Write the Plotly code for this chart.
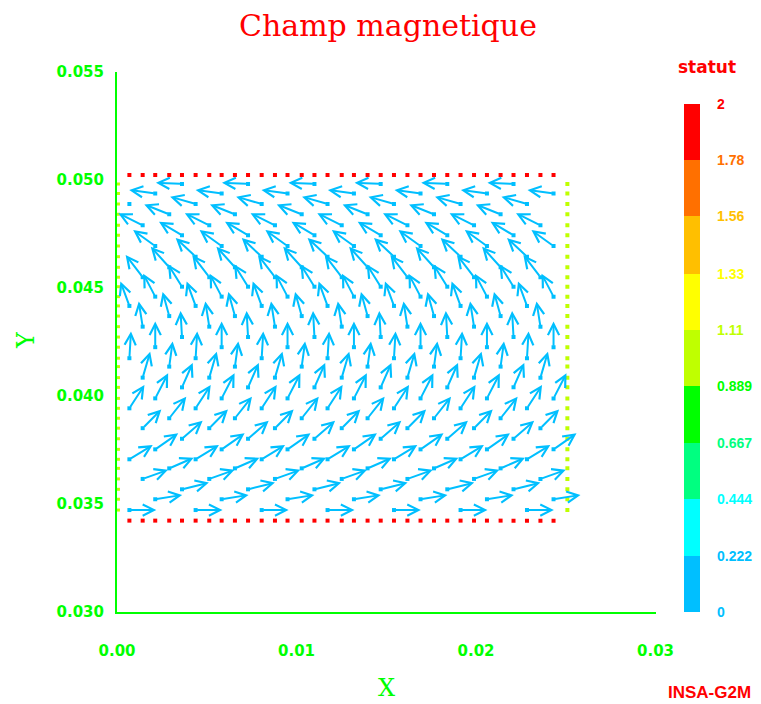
import plotly.graph_objects as go

# ---------------- data ----------------
# mesh node columns (x, metres), five interleaved families
col_a = [0.00069, 0.00438, 0.00806, 0.01173, 0.01543, 0.01914, 0.02284]
col_b = [0.00291, 0.00657, 0.01029, 0.01396, 0.01766, 0.02137]
col_c = [0.00143, 0.00514, 0.00880, 0.01252, 0.01618, 0.01989, 0.02359]
col_d = [0.00362, 0.00730, 0.01100, 0.01469, 0.01840, 0.02209]
col_e = [0.00213, 0.00583, 0.00950, 0.01320, 0.01691, 0.02061, 0.02432]

# node rows (y, metres) from top to bottom and which column family each row uses
row_y = [0.04982, 0.04938, 0.04889, 0.04841, 0.04790, 0.04744, 0.04694, 0.04645,
         0.04596, 0.04550, 0.04506, 0.04460, 0.04417, 0.04370, 0.04321, 0.04273,
         0.04226, 0.04175, 0.04136, 0.04085, 0.04040, 0.03989, 0.03943, 0.03897,
         0.03851, 0.03802, 0.03753, 0.03707, 0.03665, 0.03616, 0.03568, 0.03522,
         0.03472]
row_family = "deabcdeabcdeabcdeabcdeabcdeabcdea"
row_first = [0, 0, 1, 0, 0, 0, 0, 1, 0, 0, 0, 0, 0, 0, 0, 0, 0,
             0, 0, 0, 0, 0, 0, 0, 0, 0, 0, 0, 0, 0, 0, 0, 0]

# arrow components per row (units of 1e-3 m of plot space)
row_u = [-1.45, -1.45, -1.42, -1.39, -1.36, -1.28, -1.23, -1.11, -1.03, -0.95, -0.78,
         -0.67, -0.50, -0.37, -0.22, -0.08, 0.00, 0.09, 0.19, 0.42, 0.60, 0.72,
         0.84, 0.95, 1.04, 1.15, 1.28, 1.30, 1.36, 1.41, 1.50, 1.50, 1.50]
row_v = [0.05, 0.16, 0.34, 0.46, 0.56, 0.63, 0.74, 0.86, 0.95, 1.03, 1.04,
         1.06, 1.13, 1.11, 1.16, 1.20, 1.19, 1.24, 1.16, 1.20, 1.13, 1.16,
         1.08, 1.00, 0.87, 0.83, 0.74, 0.66, 0.49, 0.42, 0.31, 0.20, 0.00]

# isolated node with a null vector
still_x = [0.00069]
still_y = [0.04889]

# boundary nodes
top_y = 0.05023
bottom_y = 0.03423
right_x = 0.02509
left_x = 0.00008

# colour scale "statut"
statut_edges = [0, 0.222, 0.444, 0.667, 0.889, 1.11, 1.33, 1.56, 1.78, 2]
statut_labels = ["0", "0.222", "0.444", "0.667", "0.889", "1.11", "1.33", "1.56", "1.78", "2"]
statut_colors = ["#00BFFF", "#00FFFF", "#00FF80", "#00FF00", "#BFFF00",
                 "#FFFF00", "#FFBF00", "#FF7000", "#FF0000"]

x_ticks = [0.0, 0.01, 0.02, 0.03]
x_ticktext = ["0.00", "0.01", "0.02", "0.03"]
y_ticks = [0.030, 0.035, 0.040, 0.045, 0.050, 0.055]
y_ticktext = ["0.030", "0.035", "0.040", "0.045", "0.050", "0.055"]

# ---------------- figure ----------------
families = {"a": col_a, "b": col_b, "c": col_c, "d": col_d, "e": col_e}
ARROW = "#00BFFF"
GREEN = "#00FF00"
RED = "#FF0000"
YG = "#BFFF00"

tails_x, tails_y, annotations = [], [], []
for k, y in enumerate(row_y):
    xs = families[row_family[k]][row_first[k]:]
    for x in xs:
        tails_x.append(x)
        tails_y.append(y)
        annotations.append(dict(
            x=x + row_u[k] * 1e-3, y=y + row_v[k] * 1e-3,
            ax=x, ay=y, xref="x", yref="y", axref="x", ayref="y",
            text="", showarrow=True, arrowhead=5, arrowsize=1.1,
            arrowwidth=2, arrowcolor=ARROW, standoff=0, startstandoff=0))

all_cols = sorted(col_a + col_b + col_c + col_d + col_e)

fig = go.Figure()
# boundary dots
fig.add_trace(go.Scatter(x=all_cols, y=[top_y] * len(all_cols), mode="markers",
                         marker=dict(symbol="square", size=4, color=RED), showlegend=False))
fig.add_trace(go.Scatter(x=all_cols, y=[bottom_y] * len(all_cols), mode="markers",
                         marker=dict(symbol="square", size=4, color=RED), showlegend=False))
fig.add_trace(go.Scatter(x=[right_x] * len(row_y), y=row_y, mode="markers",
                         marker=dict(symbol="square", size=4, color=YG), showlegend=False))
fig.add_trace(go.Scatter(x=[left_x] * len(row_y), y=row_y, mode="markers",
                         marker=dict(symbol="square", size=3, color=YG), showlegend=False))
# arrow tails
fig.add_trace(go.Scatter(x=tails_x + still_x, y=tails_y + still_y, mode="markers",
                         marker=dict(symbol="square", size=4, color=ARROW), showlegend=False))

# colour bar drawn as stacked bar on its own axes
fig.add_trace(go.Bar(x=[0] * 9,
                     y=[statut_edges[i + 1] - statut_edges[i] for i in range(9)],
                     base=statut_edges[:-1], width=1,
                     marker=dict(color=statut_colors, line=dict(width=0)),
                     xaxis="x2", yaxis="y2", showlegend=False, hoverinfo="skip"))

# the page body adds an 8 px offset; positions below are in reference pixels
OFF = 8
W, H = 761 - OFF, 704 - OFF
L, T = 117 - OFF, 72 - OFF
R = W - (720 - OFF)
B = H - (612 - OFF)
pw, ph = W - L - R, H - T - B

def px_x(p):
    return (p - OFF - L) / pw

def px_y(p):
    return (H - B - (p - OFF)) / ph

label_colors = [statut_colors[0]] + statut_colors
for val, txt, col in zip(statut_edges, statut_labels, label_colors):
    annotations.append(dict(x=px_x(715), xref="paper", xanchor="left",
                            y=val, yref="y2", yanchor="middle", text=txt,
                            showarrow=False,
                            font=dict(family="Liberation Sans", size=14, color=col, weight="bold")))

annotations += [
    dict(x=px_x(388), y=px_y(25), xref="paper", yref="paper", xanchor="center",
         yanchor="middle", text="Champ magnetique", showarrow=False,
         font=dict(family="DejaVu Serif", size=30, color=RED)),
    dict(x=px_x(386), y=px_y(688), xref="paper", yref="paper", xanchor="center",
         yanchor="middle", text="X", showarrow=False,
         font=dict(family="DejaVu Serif", size=24, color=GREEN)),
    dict(x=px_x(26), y=px_y(340), xref="paper", yref="paper", xanchor="center",
         yanchor="middle", text="Y", showarrow=False, textangle=-90,
         font=dict(family="DejaVu Serif", size=24, color=GREEN)),
    dict(x=px_x(707), y=px_y(67), xref="paper", yref="paper", xanchor="center",
         yanchor="middle", text="statut", showarrow=False,
         font=dict(family="DejaVu Sans", size=17, color=RED, weight="bold")),
    dict(x=px_x(709), y=px_y(692), xref="paper", yref="paper", xanchor="center",
         yanchor="middle", text="INSA-G2M", showarrow=False,
         font=dict(family="Liberation Sans", size=17, color=RED, weight="bold")),
]

tickfont = dict(family="DejaVu Sans", size=15, color=GREEN, weight="bold")
fig.update_layout(
    width=W, height=H, margin=dict(l=L, r=R, t=T, b=B, autoexpand=False),
    paper_bgcolor="white", plot_bgcolor="white",
    xaxis=dict(domain=[0, 538.5 / pw], range=[0, 0.03], showline=True, linecolor=GREEN,
               linewidth=2, showgrid=False, zeroline=False, ticks="",
               tickvals=x_ticks, ticktext=x_ticktext, tickfont=tickfont,
               ticklabelstandoff=24, fixedrange=True),
    yaxis=dict(domain=[0, 1], range=[0.030, 0.055], showline=True, linecolor=GREEN,
               linewidth=2, showgrid=False, zeroline=False, ticks="",
               tickvals=y_ticks, ticktext=y_ticktext, tickfont=tickfont,
               ticklabelstandoff=8, fixedrange=True),
    xaxis2=dict(domain=[px_x(684), px_x(700)], range=[-0.5, 0.5], visible=False,
                anchor="y2", fixedrange=True),
    yaxis2=dict(domain=[0, px_y(104)], range=[0, 2], visible=False, anchor="x2",
                fixedrange=True),
    annotations=annotations,
    showlegend=False,
    bargap=0,
)

fig.write_html("out.html")
